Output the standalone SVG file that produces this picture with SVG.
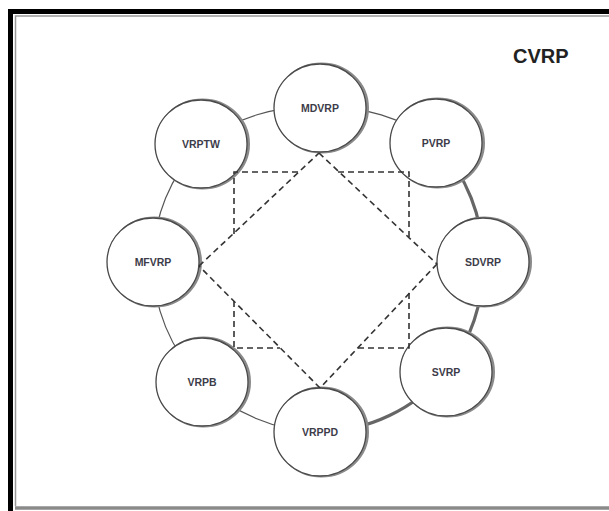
<svg xmlns="http://www.w3.org/2000/svg" width="609" height="511" viewBox="0 0 609 511">
<style>
.ring{fill:none;stroke:#555;stroke-width:1.2}
.ring.thick{stroke:#666;stroke-width:3.2}
.dash{fill:none;stroke:#333;stroke-width:1.6;stroke-dasharray:6 4}
.shadow{fill:none;stroke:#8a8a8a;stroke-width:3}
.node{fill:#fff;stroke:#4a4a4a;stroke-width:1.3}
.lbl{font-family:"Liberation Sans",Arial,sans-serif;font-weight:bold;font-size:10.5px;fill:#3d3d4a;text-anchor:middle}
.title{font-family:"Liberation Sans",Arial,sans-serif;font-weight:bold;font-size:20px;fill:#222}
</style>
<rect x="0" y="0" width="609" height="511" fill="#fff"/>
<!-- frame -->
<path d="M10.5 511 V11.5 H609" fill="none" stroke="#000" stroke-width="5"/>
<path d="M15.5 506 V16 H609" fill="none" stroke="#999" stroke-width="1.5"/>
<line x1="15" y1="508" x2="609" y2="508" stroke="#8a8a8a" stroke-width="3.5"/>
<text class="title" x="513" y="63">CVRP</text>
<g id="connectors">
<path class="ring" d="M320 108 A170 170 0 0 1 436 143"/>
<path class="ring thick" d="M436 143 A170 170 0 0 1 483 262"/>
<path class="ring thick" d="M483 262 A170 170 0 0 1 446 372"/>
<path class="ring thick" d="M446 372 A170 170 0 0 1 320 432"/>
<path class="ring" d="M320 432 A170 170 0 0 1 202 382"/>
<path class="ring" d="M202 382 A170 170 0 0 1 153 262"/>
<path class="ring" d="M153 262 A170 170 0 0 1 201 144"/>
<path class="ring" d="M201 144 A170 170 0 0 1 320 108"/>
</g>
<g id="nodes">
<g id="MDVRP"><ellipse class="shadow" cx="321.5" cy="108" rx="46" ry="44"/><ellipse class="node" cx="320" cy="108" rx="46" ry="44"/><text class="lbl" x="320" y="112">MDVRP</text></g>
<g id="VRPTW"><ellipse class="shadow" cx="202.5" cy="144" rx="46" ry="44"/><ellipse class="node" cx="201" cy="144" rx="46" ry="44"/><text class="lbl" x="201" y="148">VRPTW</text></g>
<g id="PVRP"><ellipse class="shadow" cx="437.5" cy="143" rx="46" ry="44"/><ellipse class="node" cx="436" cy="143" rx="46" ry="44"/><text class="lbl" x="436" y="147">PVRP</text></g>
<g id="MFVRP"><ellipse class="shadow" cx="154.5" cy="262" rx="46" ry="44"/><ellipse class="node" cx="153" cy="262" rx="46" ry="44"/><text class="lbl" x="153" y="266">MFVRP</text></g>
<g id="SDVRP"><ellipse class="shadow" cx="484.5" cy="262" rx="46" ry="44"/><ellipse class="node" cx="483" cy="262" rx="46" ry="44"/><text class="lbl" x="483" y="266">SDVRP</text></g>
<g id="VRPB"><ellipse class="shadow" cx="203.5" cy="382" rx="46" ry="44"/><ellipse class="node" cx="202" cy="382" rx="46" ry="44"/><text class="lbl" x="202" y="386">VRPB</text></g>
<g id="SVRP"><ellipse class="shadow" cx="447.5" cy="372" rx="46" ry="44"/><ellipse class="node" cx="446" cy="372" rx="46" ry="44"/><text class="lbl" x="446" y="376">SVRP</text></g>
<g id="VRPPD"><ellipse class="shadow" cx="321.5" cy="432" rx="46" ry="44"/><ellipse class="node" cx="320" cy="432" rx="46" ry="44"/><text class="lbl" x="320" y="436">VRPPD</text></g>
</g>
<g id="dashed">
<path class="dash" d="M319 153 L437 264"/>
<path class="dash" d="M437 264 L320 388"/>
<path class="dash" d="M320 388 L199 266"/>
<path class="dash" d="M199 266 L319 153"/>
<path class="dash" d="M298 172 H234 V234"/>
<path class="dash" d="M338 172 H409 V241"/>
<path class="dash" d="M234 301 V348 H280"/>
<path class="dash" d="M409 293 V348 H357"/>
</g>
</svg>
